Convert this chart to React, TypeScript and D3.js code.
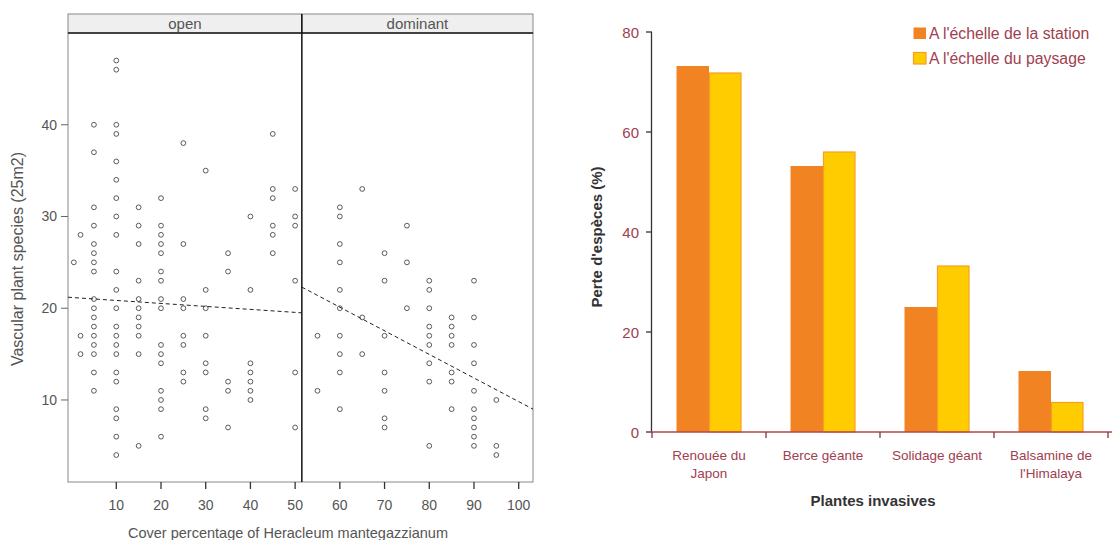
import * as d3 from "d3";

// ---- left chart: species vs Heracleum cover ----
const openCover = [0.5, 2, 5, 10, 15, 20, 25, 30, 35, 40, 45, 50];
const openSpecies = [
  [25],
  [28, 17, 15],
  [40, 37, 31, 29, 27, 26, 25, 24, 21, 20, 19, 18, 17, 16, 15, 13, 11],
  [47, 46, 40, 39, 36, 34, 32, 30, 28, 24, 22, 20, 18, 17, 16, 15, 13, 12, 9, 8, 6, 4],
  [31, 29, 27, 23, 21, 20, 19, 18, 17, 15, 5],
  [32, 29, 28, 27, 26, 24, 23, 21, 20, 16, 15, 14, 11, 10, 9, 6],
  [38, 27, 21, 20, 17, 16, 13, 12],
  [35, 22, 20, 17, 14, 13, 9, 8],
  [26, 24, 12, 11, 7],
  [30, 22, 14, 13, 12, 11, 10],
  [39, 33, 32, 29, 28, 26],
  [33, 30, 29, 23, 13, 7],
];
const dominantCover = [55, 60, 65, 70, 75, 80, 85, 90, 95];
const dominantSpecies = [
  [17, 11],
  [31, 30, 27, 25, 22, 20, 17, 15, 13, 9],
  [33, 19, 15],
  [26, 23, 17, 13, 11, 8, 7],
  [29, 25, 20],
  [23, 22, 20, 18, 17, 16, 14, 12, 5],
  [19, 18, 17, 16, 13, 12, 9],
  [23, 19, 16, 14, 11, 9, 8, 7, 6, 5],
  [10, 5, 4],
];
// regression lines (end points)
const fitOpen = [[-0.8, 21.2], [51.5, 19.5]];
const fitDominant = [[51.5, 22.3], [103.2, 9.0]];
const coverTicks = [10, 20, 30, 40, 50, 60, 70, 80, 90, 100];
const speciesTicks = [10, 20, 30, 40];
const panelNames = ["open", "dominant"];

// ---- right chart: loss of species ----
const plants = [
  ["Renouée du", "Japon"],
  ["Berce géante"],
  ["Solidage géant"],
  ["Balsamine de", "l'Himalaya"],
];
const seriesNames = ["A l'échelle de la station", "A l'échelle du paysage"];
const stationLoss = [73.2, 53.2, 25, 12.2];
const paysageLoss = [71.8, 56, 33.2, 5.9];
const lossTicks = [0, 20, 40, 60, 80];

const grey = "#555";
const red = "#a0404f";
const orange = "#f28322";
const yellow = "#ffcc00";

function ScatterPanel() {
  const x = d3.scaleLinear().domain([-0.8, 103.2]).range([68, 533]);
  const y = d3.scaleLinear().domain([1.06, 50]).range([482, 33]);
  const split = x(51.5);
  const line = d3
    .line<number[]>()
    .x((d) => x(d[0]))
    .y((d) => y(d[1]));

  const points: [number, number][] = [];
  openCover.forEach((c, i) => openSpecies[i].forEach((s) => points.push([c, s])));
  dominantCover.forEach((c, i) => dominantSpecies[i].forEach((s) => points.push([c, s])));

  const font = "'Liberation Sans', Arial, sans-serif";
  return (
    <g fontFamily={font} fill={grey}>
      {/* strips */}
      <rect x={68} y={14} width={split - 68} height={19} fill="#efefef" stroke="#888" />
      <rect x={split} y={14} width={533 - split} height={19} fill="#efefef" stroke="#888" />
      <text x={(68 + split) / 2} y={28.5} textAnchor="middle" fontSize={15}>
        {panelNames[0]}
      </text>
      <text x={(split + 533) / 2} y={28.5} textAnchor="middle" fontSize={15}>
        {panelNames[1]}
      </text>
      {/* panel box */}
      <rect x={68} y={33} width={465} height={449} fill="none" stroke="#888" />
      <line x1={68} x2={533} y1={33} y2={33} stroke="#222" strokeWidth={1.5} />
      <line x1={split} x2={split} y1={14} y2={482} stroke="#111" strokeWidth={1.5} />

      {points.map((p, i) => (
        <circle key={i} cx={x(p[0])} cy={y(p[1])} r={2.4} fill="none" stroke="#333" strokeWidth={0.8} />
      ))}

      <path d={line(fitOpen) || ""} fill="none" stroke="#222" strokeDasharray="4,3" />
      <path d={line(fitDominant) || ""} fill="none" stroke="#222" strokeDasharray="4,3" />

      {/* axes */}
      {speciesTicks.map((t) => (
        <g key={t}>
          <line x1={61} x2={68} y1={y(t)} y2={y(t)} stroke="#666" />
          <text x={57} y={y(t) + 5} textAnchor="end" fontSize={14}>
            {t}
          </text>
        </g>
      ))}
      {coverTicks.map((t) => (
        <g key={t}>
          <line x1={x(t)} x2={x(t)} y1={482} y2={489} stroke="#333" strokeWidth={1.3} />
          <text x={x(t)} y={510} textAnchor="middle" fontSize={14}>
            {t}
          </text>
        </g>
      ))}
      <text x={288} y={538} textAnchor="middle" fontSize={14.5}>
        Cover percentage of Heracleum mantegazzianum
      </text>
      <text transform="translate(23,259) rotate(-90)" textAnchor="middle" fontSize={16}>
        Vascular plant species (25m2)
      </text>
    </g>
  );
}

function BarPanel() {
  const x0 = d3
    .scaleBand()
    .domain(plants.map((p) => p.join(" ")))
    .range([652, 1108]);
  const x1 = d3
    .scaleBand()
    .domain(seriesNames)
    .range([0, x0.bandwidth()])
    .paddingOuter(0.754);
  const y = d3.scaleLinear().domain([0, 80]).range([432, 32]);
  const series = [stationLoss, paysageLoss];
  const font = "'Liberation Sans', Arial, sans-serif";

  return (
    <g fontFamily={font}>
      {plants.map((p, i) => {
        const key = p.join(" ");
        return (
          <g key={key} transform={`translate(${x0(key)},0)`}>
            {series.map((vals, j) => (
              <rect
                key={j}
                x={x1(seriesNames[j])! + (j === 1 ? 0.5 : 0)}
                y={y(vals[i])}
                width={x1.bandwidth() - (j === 1 ? 1 : 0)}
                height={432 - y(vals[i])}
                fill={j === 0 ? orange : yellow}
                stroke={j === 0 ? "none" : "#f5a020"}
                strokeWidth={1.2}
              />
            ))}
            {p.map((ln, k) => (
              <text
                key={k}
                x={x0.bandwidth() / 2}
                y={460 + k * 18}
                textAnchor="middle"
                fontSize={13.5}
                fill={red}
              >
                {ln}
              </text>
            ))}
          </g>
        );
      })}

      {/* y axis */}
      <line x1={651.5} x2={651.5} y1={32} y2={432} stroke="#333" strokeWidth={1.3} />
      {lossTicks.map((t) => (
        <g key={t}>
          <line x1={646} x2={652} y1={y(t)} y2={y(t)} stroke="#333" strokeWidth={1.3} />
          <text x={639} y={y(t) + 5.5} textAnchor="end" fontSize={15} fill={red}>
            {t}
          </text>
        </g>
      ))}
      {/* x axis */}
      <line x1={651} x2={1112} y1={432} y2={432} stroke="#b5454f" strokeWidth={1.5} />
      {[...x0.domain().map((d) => x0(d)!), 1108].map((v, i) => (
        <line key={i} x1={v} x2={v} y1={432} y2={438} stroke="#7a3a3f" strokeWidth={1.3} />
      ))}

      <text x={873} y={506} textAnchor="middle" fontSize={15} fontWeight="bold" fill="#333">
        Plantes invasives
      </text>
      <text
        transform="translate(602,237) rotate(-90)"
        textAnchor="middle"
        fontSize={15}
        fontWeight="bold"
        fill="#333"
      >
        Perte d'espèces (%)
      </text>

      {/* legend */}
      {seriesNames.map((s, j) => (
        <g key={s} transform={`translate(913,${27 + j * 25})`}>
          <rect
            x={0.5}
            y={0.5}
            width={12.5}
            height={11.5}
            fill={j === 0 ? orange : yellow}
            stroke={j === 0 ? "none" : "#f5a020"}
            strokeWidth={1.2}
          />
          <text x={16} y={11.5} fontSize={15.8} fill={red}>
            {s}
          </text>
        </g>
      ))}
    </g>
  );
}

export default function App() {
  return (
    <svg
      width={1119}
      height={540}
      style={{ position: "absolute", left: 0, top: 0, background: "#fff" }}
    >
      <rect width={1119} height={540} fill="#fff" />
      <ScatterPanel />
      <BarPanel />
    </svg>
  );
}
